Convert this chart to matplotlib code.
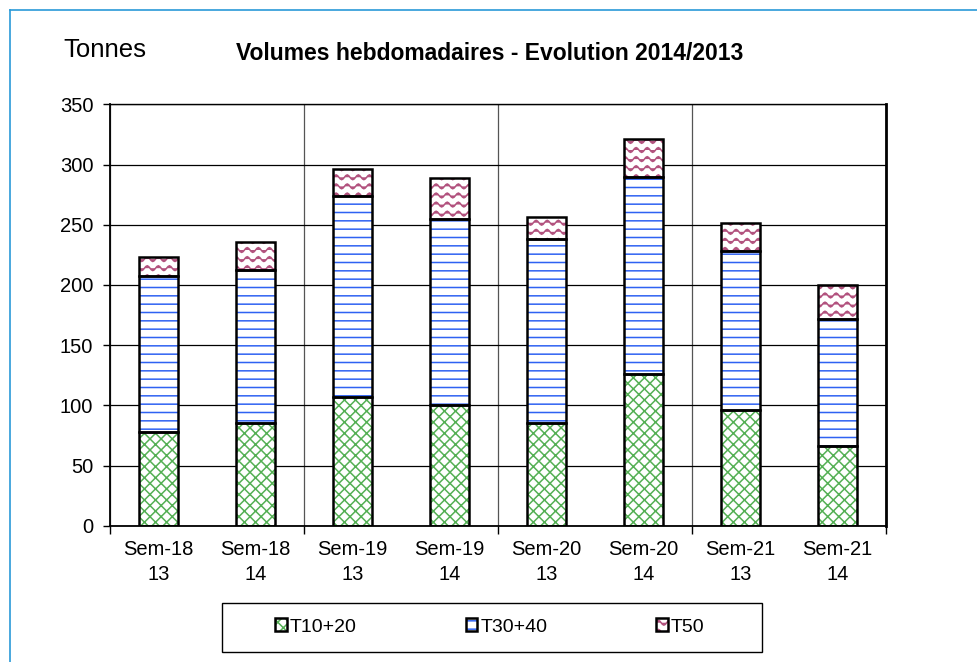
import warnings
import numpy as np
import matplotlib
matplotlib.use("Agg")
import matplotlib.pyplot as plt
import matplotlib.hatch as mhatch
from matplotlib.lines import Line2D
from matplotlib.patches import Rectangle

warnings.filterwarnings("ignore")

# ========== DONNÉES ==========
semaines = ["Sem-18\n13", "Sem-18\n14", "Sem-19\n13", "Sem-19\n14",
            "Sem-20\n13", "Sem-20\n14", "Sem-21\n13", "Sem-21\n14"]
t10_20 = [78, 85, 107, 100, 85, 126, 96, 66]
t30_40 = [129, 127, 167, 155, 153, 164, 132, 106]
t50 = [16, 24, 22, 34, 18, 31, 23, 28]
yticks = [0, 50, 100, 150, 200, 250, 300, 350]


# ========== MOTIF ONDULÉ (hachure perso '~') ==========
class WaveHatch(mhatch.HatchPatternBase):
    def __init__(self, hatch, density):
        self.num_rows = hatch.count('~') * 11
        self.num_pts = 73
        self.num_vertices = self.num_rows * self.num_pts

    def set_vertices_and_codes(self, vertices, codes):
        t = np.linspace(0, 1, self.num_pts)
        for i in range(self.num_rows):
            y0 = (i + 0.5) / self.num_rows
            sl = slice(i * self.num_pts, (i + 1) * self.num_pts)
            vertices[sl, 0] = t
            vertices[sl, 1] = y0 + 0.024 * np.sin(2 * np.pi * 9 * t)
            codes[sl] = mhatch.Path.LINETO
            codes[i * self.num_pts] = mhatch.Path.MOVETO


mhatch._hatch_types.append(WaveHatch)

plt.rcParams['font.family'] = ['Liberation Sans', 'DejaVu Sans']
plt.rcParams['hatch.linewidth'] = 1.1

fig = plt.figure(figsize=(9.77, 6.62), dpi=100)
ax = fig.add_axes([110/977, 1 - 525.7/662, 776/977, 421.4/662])

x = np.arange(len(semaines))
w = 0.4
b1 = np.array(t10_20)
b2 = b1 + np.array(t30_40)

styles = [
    (t10_20, 0, '#55b055', 'xxx', 'T10+20'),
    (t30_40, b1, '#2f62f2', '--', 'T30+40'),
    (t50, b2, '#b2527e', '~', 'T50'),
]
handles = []
labels = []
for vals, bottom, col, hatch, lab in styles:
    h = ax.bar(x, vals, w, bottom=bottom, facecolor='white', edgecolor=col,
               hatch=hatch, linewidth=0, zorder=2)
    o = ax.bar(x, vals, w, bottom=bottom, fill=False, edgecolor='black',
               linewidth=1.8, zorder=3)
    handles.append((h[0], o[0]))
    labels.append(lab)

# ========== AXES ==========
ax.set_xlim(-0.5, 7.5)
ax.set_ylim(0, 350)
ax.set_yticks(yticks)
ax.set_axisbelow(True)
ax.yaxis.grid(True, color='black', linewidth=0.9)
ax.set_xticks([-0.5, 1.5, 3.5, 5.5, 7.5])
ax.set_xticklabels([])
ax.xaxis.grid(True, color='#555555', linewidth=0.9)
ax.set_xticks(x, minor=True)
ax.set_xticklabels(semaines, minor=True, fontsize=14.5, linespacing=1.4)
ax.tick_params(axis='x', which='major', length=6, width=1, direction='out')
ax.tick_params(axis='x', which='minor', length=0, pad=10)
ax.tick_params(axis='y', length=5, width=1, direction='out', labelsize=14.5, pad=7)
for s in ax.spines.values():
    s.set_color('black')
ax.spines['left'].set_linewidth(1.3)
ax.spines['bottom'].set_linewidth(1.3)
ax.spines['top'].set_linewidth(1.0)
ax.spines['right'].set_linewidth(2.0)

# ========== TEXTES ==========
fig.text(63/977, 1 - 50/662, 'Tonnes', fontsize=18.5, va='center', ha='left')
fig.text(489.5/977, 1 - 53/662, 'Volumes hebdomadaires - Evolution 2014/2013',
         fontsize=16.5, fontweight='bold', va='center', ha='center')

# ========== LÉGENDE ==========
fig.legend(handles, labels, loc='center', bbox_to_anchor=(490/977, 1 - 627/662),
           ncol=3, frameon=False, fontsize=14, handlelength=0.6,
           handleheight=0.6, handletextpad=0.15, columnspacing=5.6,
           borderpad=0, borderaxespad=0)
fig.add_artist(Rectangle((222/977, 1 - 652/662), 540/977, 49/662,
                         transform=fig.transFigure, fill=False,
                         edgecolor='black', linewidth=1.0))

# cadre bleu extérieur
fig.add_artist(Line2D([10/977, 1], [1 - 10/662, 1 - 10/662],
                      transform=fig.transFigure, color='#2a9ad8', linewidth=1.2))
fig.add_artist(Line2D([10/977, 10/977], [0, 1 - 10/662],
                      transform=fig.transFigure, color='#2a9ad8', linewidth=1.2))

fig.savefig('out.png', dpi=100)
